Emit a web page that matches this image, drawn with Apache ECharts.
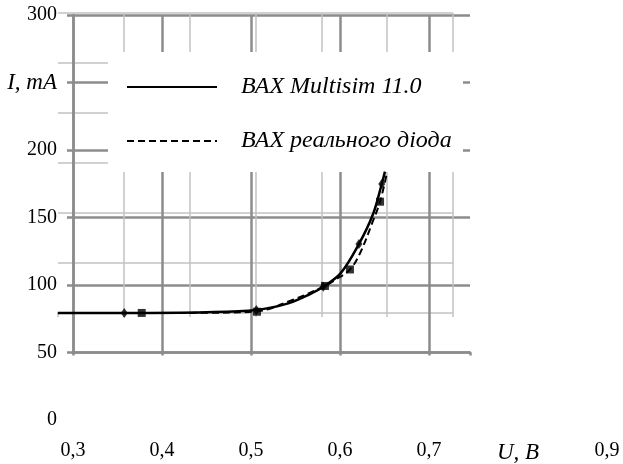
<!DOCTYPE html>
<html>
<head>
<meta charset="utf-8">
<script src="https://cdn.jsdelivr.net/npm/echarts@6/dist/echarts.min.js"></script>
<style>
html,body{margin:0;padding:0;background:#fff;}
#chart{width:623px;height:464px;}
</style>
</head>
<body>
<div id="chart"></div>
<script>
// ---- data ----
const seriesNames = ['ВАХ Multisim 11.0', 'ВАХ реального діода'];
// smooth curve of Multisim model (U, V ; I, mA)
const multisimU = [0.283, 0.3576, 0.45, 0.506, 0.5419, 0.5663, 0.5812, 0.6008, 0.6213, 0.6374, 0.6469, 0.6505];
const multisimI = [79.3, 79.3, 79.8, 81.5, 86.4, 93.2, 98.7, 108.8, 130.4, 153, 174.8, 184];
// measured real diode curve
const realU = [0.283, 0.3772, 0.45, 0.5067, 0.545, 0.5831, 0.5944, 0.6112, 0.6225, 0.6374, 0.645, 0.6524];
const realI = [79.3, 79.3, 79.4, 80.5, 88.5, 99.3, 103.7, 111.5, 123.5, 148, 161.7, 182];
// point markers
const multisimMarkU = [0.3576, 0.506, 0.5812, 0.6213, 0.6469];
const multisimMarkI = [79.3, 81.5, 98.7, 130.4, 174.8];
const realMarkU = [0.3772, 0.5067, 0.5831, 0.6112, 0.645];
const realMarkI = [79.3, 80.2, 99.3, 111.5, 161.7];
// tick labels
const xTickLabels = ['0,3', '0,4', '0,5', '0,6', '0,7', 'U, В', '0,9'];
const yTickLabels = ['0', '50', '100', '150', '200', 'I, mA', '300'];
const italicLabels = ['U, В', 'I, mA'];

const zip = (a, b) => a.map((v, i) => [v, b[i]]);
const FONT = "'Liberation Serif', 'Times New Roman', serif";
const DARK = '#8c8c8c';
const LIGHT = '#c2c2c2';

// layout of the labelled axes: x from 0.3 at 73px, 0.1 per 89px
const AX_LEFT = 73, AX_RIGHT = 16, PX_PER_UNIT_X = 890, CHART_W = 623;
// data grid spans the full width, same scale as the labelled axis
const dataXMin = 0.3 - AX_LEFT / PX_PER_UNIT_X;
const dataXMax = dataXMin + CHART_W / PX_PER_UNIT_X;

function fmt(arr, min, step) {
  return function (v) {
    const i = Math.round((v - min) / step);
    const t = arr[i];
    if (t === undefined) return '';
    return italicLabels.indexOf(t) >= 0 ? '{it|' + t + '}' : t;
  };
}
const richIt = { it: { fontFamily: FONT, fontStyle: 'italic', fontSize: 23, color: '#000' } };
const hiddenAxis = { axisLine: { show: false }, axisTick: { show: false }, axisLabel: { show: false }, splitLine: { show: false } };

const chart = echarts.init(document.getElementById('chart'));
chart.setOption({
  backgroundColor: '#fff',
  animation: false,
  grid: [
    { left: 58, top: 13, width: 395, height: 300 },   // light background grid
    { left: 73, top: 15, width: 397, height: 337.5 }, // dark grid
    { left: AX_LEFT, right: AX_RIGHT, top: 15, bottom: 44 }, // tick labels
    { left: 0, width: CHART_W, top: 15, bottom: 44 }  // data (same scale, full width)
  ],
  xAxis: [
    { gridIndex: 0, type: 'value', min: 0, max: 6, interval: 1, z: 0,
      axisLine: { show: false }, axisLabel: { show: false },
      axisTick: { show: true, length: 4, lineStyle: { color: LIGHT, width: 1.5 } },
      splitLine: { show: true, showMinLine: false, lineStyle: { color: LIGHT, width: 1.5 } } },
    { gridIndex: 1, type: 'value', min: 0.3, max: 0.7461, interval: 0.1, z: 0,
      axisLine: { show: true, lineStyle: { color: DARK, width: 2.5 } },
      axisLabel: { show: false },
      axisTick: { show: true, length: 3, lineStyle: { color: DARK, width: 2.5 } },
      splitLine: { show: true, showMaxLine: false, lineStyle: { color: DARK, width: 2.5 } } },
    { gridIndex: 2, type: 'value', min: 0.3, max: 0.9, interval: 0.1, z: 1,
      axisLine: { show: false }, axisTick: { show: false }, splitLine: { show: false },
      axisLabel: { show: true, margin: 21, fontFamily: FONT, fontSize: 20, color: '#000',
        showMinLabel: true, showMaxLabel: true,
        formatter: fmt(xTickLabels, 0.3, 0.1), rich: richIt } },
    Object.assign({ gridIndex: 3, type: 'value', min: dataXMin, max: dataXMax }, hiddenAxis)
  ],
  yAxis: [
    { gridIndex: 0, type: 'value', min: 0, max: 6, interval: 1, z: 0,
      axisLine: { show: false }, axisLabel: { show: false }, axisTick: { show: false },
      splitLine: { show: true, lineStyle: { color: LIGHT, width: 1.5 } } },
    { gridIndex: 1, type: 'value', min: 50, max: 300, interval: 50, z: 0,
      axisLine: { show: true, lineStyle: { color: DARK, width: 2.5 } },
      axisLabel: { show: false },
      axisTick: { show: true, length: 6, lineStyle: { color: DARK, width: 2.5 } },
      splitLine: { show: true, lineStyle: { color: DARK, width: 2.5 } } },
    { gridIndex: 2, type: 'value', min: 0, max: 300, interval: 50, z: 1,
      axisLine: { show: false }, axisTick: { show: false }, splitLine: { show: false },
      axisLabel: { show: true, margin: 16, fontFamily: FONT, fontSize: 20, color: '#000',
        formatter: fmt(yTickLabels, 0, 50), rich: richIt } },
    Object.assign({ gridIndex: 3, type: 'value', min: 0, max: 300, interval: 50 }, hiddenAxis)
  ],
  graphic: [
    { type: 'rect', z: 1, shape: { x: 108, y: 52, width: 355, height: 120 },
      style: { fill: '#fff' } }
  ],
  legend: {
    data: seriesNames, orient: 'vertical', left: 126, top: 75, padding: 0,
    itemWidth: 90, itemHeight: 26, itemGap: 30, z: 6,
    itemStyle: { color: 'rgba(0,0,0,0)', borderColor: 'rgba(0,0,0,0)', borderWidth: 0 },
    textStyle: { fontFamily: FONT, fontStyle: 'italic', fontSize: 24, color: '#000', padding: [0, 0, 0, 19] }
  },
  series: [
    { name: seriesNames[0], type: 'line', xAxisIndex: 3, yAxisIndex: 3, z: 3,
      data: zip(multisimU, multisimI), smooth: 0.35, symbol: 'none',
      lineStyle: { color: '#000', width: 2.5 }, itemStyle: { color: '#000' } },
    { name: seriesNames[1], type: 'line', xAxisIndex: 3, yAxisIndex: 3, z: 3,
      data: zip(realU, realI), smooth: 0.35, symbol: 'none',
      lineStyle: { color: '#000', width: 2, type: [7, 4] }, itemStyle: { color: '#000' } },
    { name: 'multisim points', type: 'scatter', xAxisIndex: 3, yAxisIndex: 3, z: 4,
      data: zip(multisimMarkU, multisimMarkI), symbol: 'diamond', symbolSize: [7, 10],
      itemStyle: { color: '#000' } },
    { name: 'real points', type: 'scatter', xAxisIndex: 3, yAxisIndex: 3, z: 4,
      data: zip(realMarkU, realMarkI), symbol: 'rect', symbolSize: 8,
      itemStyle: { color: '#000' } }
  ]
});
</script>
</body>
</html>
